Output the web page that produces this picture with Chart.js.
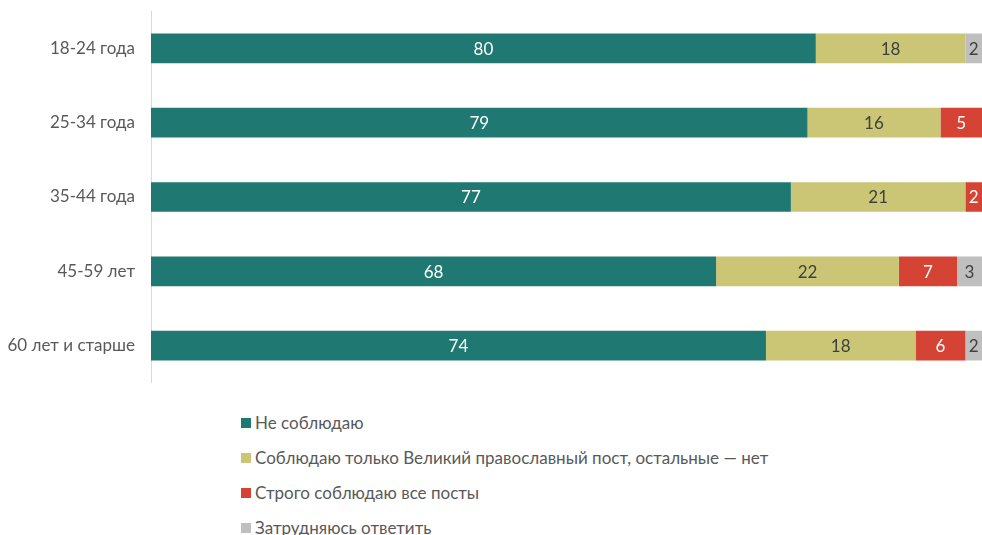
<!DOCTYPE html>
<html>
<head>
<meta charset="utf-8">
<script src="https://cdn.jsdelivr.net/npm/chart.js@4/dist/chart.umd.min.js"></script>
<style>
    html, body { margin: 0; padding: 0; background: #fff; }
    #wrap { position: relative; width: 982px; height: 535px; overflow: hidden; }
    #box { position: absolute; left: 0; top: -15px; width: 982px; height: 424px; }
    .legend { position: absolute; left: 241px; top: 411px; font-family: Lato, "Open Sans", sans-serif; font-size: 17px; color: #595959; }
    .legend ul { list-style: none; margin: 0; padding: 0; }
    .legend li { height: 35px; line-height: 24px; white-space: nowrap; }
    .legend li span { display: inline-block; width: 10px; height: 10px; margin-right: 4px; vertical-align: 1px; }
</style>
</head>
<body>
<div id="wrap">
    <div id="box"><canvas id="chart"></canvas></div>
    <div class="legend"></div>
</div>
<script>
(function () {

    "use strict";

    var categories = ['18-24 года', '25-34 года', '35-44 года', '45-59 лет', '60 лет и старше'];
    var seriesNames = [
        'Не соблюдаю',
        'Соблюдаю только Великий православный пост, остальные — нет',
        'Строго соблюдаю все посты',
        'Затрудняюсь ответить'
    ];
    var notObserve = [80, 79, 77, 68, 74];
    var onlyGreatLent = [18, 16, 21, 22, 18];
    var strictAll = [0, 5, 2, 7, 6];
    var hardToSay = [2, 0, 0, 3, 2];

    var colors = ['#1F7872', '#CBC676', '#D44333', '#BFBFBF'];
    var labelColors = ['#ffffff', '#404040', '#ffffff', '#404040'];
    var font = 'Lato, "Open Sans", sans-serif';

    // draws the value in the middle of every segment
    var valueLabels = {
        id: 'valueLabels',
        afterDatasetsDraw: function (chart) {
            var ctx = chart.ctx;
            ctx.save();
            ctx.font = '17px ' + font;
            ctx.textAlign = 'center';
            ctx.textBaseline = 'middle';
            chart.data.datasets.forEach(function (ds, i) {
                var meta = chart.getDatasetMeta(i);
                meta.data.forEach(function (bar, j) {
                    var v = ds.data[j];
                    if (!v) return;
                    var x = (bar.x + bar.base) / 2;
                    ctx.fillStyle = labelColors[i];
                    ctx.fillText(String(v), x, bar.y + 1);
                });
            });
            ctx.restore();
        }
    };

    var data = [notObserve, onlyGreatLent, strictAll, hardToSay];

    var chart = new Chart(document.getElementById('chart').getContext('2d'), {
        type: 'bar',
        data: {
            labels: categories,
            datasets: seriesNames.map(function (name, i) {
                return {
                    label: name,
                    data: data[i],
                    backgroundColor: colors[i],
                    borderWidth: 0,
                    barPercentage: 0.8,
                    categoryPercentage: 0.5
                };
            })
        },
        options: {
            indexAxis: 'y',
            responsive: true,
            maintainAspectRatio: false,
            animation: false,
            layout: { padding: 0 },
            plugins: {
                legend: { display: false },
                tooltip: { enabled: false }
            },
            scales: {
                x: {
                    stacked: true,
                    min: 0,
                    max: 100,
                    display: false
                },
                y: {
                    stacked: true,
                    grid: { display: false, drawTicks: false },
                    border: { display: true, color: '#D9D9D9', width: 1 },
                    ticks: {
                        color: '#595959',
                        font: { family: font, size: 17 },
                        padding: 16
                    },
                    afterFit: function (scale) { scale.width = 151; }
                }
            }
        },
        plugins: [valueLabels]
    });

    // html legend, one item per line
    var text = ['<ul>'];
    chart.data.datasets.forEach(function (ds) {
        text.push('<li><span style="background-color:' + ds.backgroundColor + '"></span>' + ds.label + '</li>');
    });
    text.push('</ul>');
    document.querySelector('.legend').innerHTML = text.join('');

})();
</script>
</body>
</html>
